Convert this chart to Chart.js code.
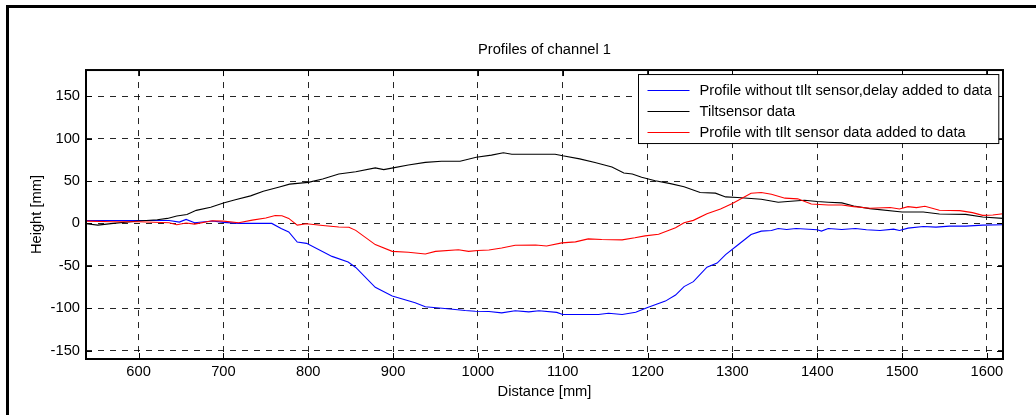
<!DOCTYPE html>
<html>
<head>
<meta charset="utf-8">
<title>Profiles of channel 1</title>
<script src="https://cdn.jsdelivr.net/npm/chart.js@4.4.1/dist/chart.umd.min.js"></script>
<style>
  body { margin: 0; background: #fff; }
  canvas { display: block; }
</style>
</head>
<body>
<canvas id="profileChart" width="1036" height="415"></canvas>
<script>
// profile without tilt sensor (delay added)
const blueDistance = [538, 560, 590, 620, 636, 648, 656, 666, 687, 700, 718, 740, 757, 768, 777, 787, 798, 828, 847, 856, 879, 899, 926, 938, 961, 985, 997, 1013, 1028, 1044, 1060, 1072, 1093, 1100, 1142, 1154, 1170, 1186, 1200, 1221, 1233, 1243, 1254, 1270, 1282, 1292, 1306, 1322, 1334, 1346, 1354, 1364, 1375, 1400, 1405, 1413, 1429, 1445, 1458, 1474, 1490, 1497, 1507, 1525, 1540, 1556, 1575, 1595, 1619];
const blueHeight = [3.5, 3.5, 3.5, 3.5, 3.5, 1.6, 4.7, 0.8, 2.8, 1.2, 0, 0, 0, -6, -10, -22, -23.5, -38.9, -45.6, -52, -75.4, -85.7, -93.7, -98.4, -100.4, -102.8, -103.6, -104, -105.6, -103, -104.4, -103, -105, -107.5, -107.5, -106, -107.5, -104.8, -99.2, -91.7, -84.5, -74.6, -68.7, -51.6, -46.8, -36.9, -25.8, -13.1, -9.1, -8.3, -6, -7.1, -6, -7.5, -9.1, -6, -7.1, -6, -7.5, -8.3, -6.7, -8.3, -5.6, -3.6, -4.4, -3.2, -3.2, -2, -1.6];

// tilt sensor
const blackDistance = [538, 552, 570, 600, 622, 634, 645, 657, 668, 685, 700, 714, 732, 747, 766, 778, 800, 817, 836, 856, 879, 889, 900, 918, 938, 957, 979, 998, 1016, 1030, 1040, 1091, 1100, 1120, 1138, 1158, 1172, 1182, 1193, 1209, 1227, 1243, 1262, 1280, 1292, 1306, 1334, 1354, 1369, 1385, 1400, 1413, 1429, 1443, 1462, 1500, 1525, 1544, 1575, 1595, 1619];
const blackHeight = [-0.4, -2, 0, 2.8, 4.3, 5.9, 8.7, 10.6, 15.4, 19, 24, 28, 32.5, 38, 43, 46.4, 48.4, 52.4, 58.3, 61, 65.5, 63.5, 65.5, 69, 72, 73.4, 73.4, 78, 80.6, 83.3, 81.7, 81.7, 79.8, 76.2, 71.8, 66.7, 59.5, 58.3, 54.4, 50.4, 47, 43.3, 36.5, 35.7, 31.3, 30.6, 28.6, 25, 26.2, 27.4, 25.8, 25, 24.2, 20.5, 17.5, 13.5, 13.5, 11.1, 10.7, 7.5, 6];

// profile with tilt sensor data added
const redDistance = [538, 570, 600, 636, 645, 656, 666, 687, 700, 718, 734, 750, 761, 769, 777, 787, 798, 820, 836, 848, 856, 879, 899, 918, 938, 950, 977, 989, 1000, 1013, 1028, 1044, 1068, 1081, 1099, 1115, 1130, 1146, 1170, 1185, 1197, 1213, 1233, 1243, 1254, 1270, 1286, 1300, 1322, 1334, 1346, 1362, 1377, 1393, 1413, 1429, 1443, 1462, 1486, 1497, 1507, 1517, 1527, 1544, 1568, 1583, 1595, 1607, 1619];
const redHeight = [2.7, 2, 2, 0.8, -1.6, 0.4, -0.8, 3.1, 2.7, 0.8, 3.9, 6.3, 9.4, 9, 5.9, -2, -0.4, -2.7, -4.3, -4.6, -8.2, -25, -33, -34, -36, -33, -31, -33, -32, -31.3, -29, -25.8, -25.4, -26.6, -23, -21.8, -18.3, -19, -19.4, -17, -14.7, -12.7, -5.2, 0.8, 3.6, 11.5, 17, 23.4, 35.7, 36.5, 34.5, 29.8, 29, 23, 21.8, 21.8, 19.8, 17.9, 18.7, 17, 19.8, 18.7, 20.2, 15.5, 15.1, 12.7, 9.5, 9.9, 11.5];

const distanceTicks = [600, 700, 800, 900, 1000, 1100, 1200, 1300, 1400, 1500, 1600];
const heightTicks = [-150, -100, -50, 0, 50, 100, 150];

const seriesLabels = [
  "Profile without tIlt sensor,delay added to data",
  "Tiltsensor data",
  "Profile with tIlt sensor data added to data",
];
const seriesColors = ["#0000ff", "#000000", "#ff0000"];

const fontFamily = "'Liberation Sans', Arial, Helvetica, sans-serif";
const fontSize = 14.7;

function toPoints(xs, ys) {
  return xs.map((x, i) => ({ x: x, y: ys[i] }));
}

// white figure with the thick frame on the left and top
const figureFrame = {
  id: "figureFrame",
  beforeDraw(chart) {
    const ctx = chart.ctx;
    ctx.save();
    ctx.fillStyle = "#fff";
    ctx.fillRect(0, 0, chart.width, chart.height);
    ctx.strokeStyle = "#000";
    ctx.lineWidth = 3;
    ctx.beginPath();
    ctx.moveTo(7.5, chart.height);
    ctx.lineTo(7.5, 6.5);
    ctx.lineTo(chart.width, 6.5);
    ctx.stroke();
    ctx.restore();
  },
};

// axes box, inward tick marks and the boxed legend in the upper right
const axesBox = {
  id: "axesBox",
  afterDraw(chart) {
    const ctx = chart.ctx;
    const area = chart.chartArea;
    const xScale = chart.scales.x;
    const yScale = chart.scales.y;
    const tickLen = 6;

    ctx.save();
    ctx.strokeStyle = "#000";
    ctx.lineWidth = 1;
    ctx.beginPath();
    xScale.ticks.forEach((t) => {
      const px = Math.round(xScale.getPixelForValue(t.value)) + 0.5;
      ctx.moveTo(px, area.bottom);
      ctx.lineTo(px, area.bottom - tickLen);
      ctx.moveTo(px, area.top);
      ctx.lineTo(px, area.top + tickLen);
    });
    yScale.ticks.forEach((t) => {
      const py = Math.round(yScale.getPixelForValue(t.value)) + 0.5;
      ctx.moveTo(area.left, py);
      ctx.lineTo(area.left + tickLen, py);
      ctx.moveTo(area.right, py);
      ctx.lineTo(area.right - tickLen, py);
    });
    ctx.stroke();

    ctx.lineWidth = 2;
    ctx.strokeRect(area.left, area.top, area.right - area.left, area.bottom - area.top);

    // legend
    ctx.font = fontSize + "px " + fontFamily;
    let textWidth = 0;
    chart.data.datasets.forEach((ds) => {
      textWidth = Math.max(textWidth, ctx.measureText(ds.label).width);
    });
    const boxW = 9 + 42 + 10 + textWidth + 7;
    const boxH = 69;
    const boxX = Math.round(area.right - 5 - boxW) + 0.5;
    const boxY = area.top + 4.5;
    ctx.fillStyle = "#fff";
    ctx.fillRect(boxX, boxY, boxW, boxH);
    ctx.lineWidth = 1;
    ctx.strokeStyle = "#000";
    ctx.strokeRect(boxX, boxY, boxW, boxH);

    ctx.textBaseline = "middle";
    ctx.textAlign = "left";
    chart.data.datasets.forEach((ds, i) => {
      const rowY = Math.round(boxY + 15 + i * 21) + 0.5;
      ctx.strokeStyle = ds.borderColor;
      ctx.beginPath();
      ctx.moveTo(boxX + 9, rowY);
      ctx.lineTo(boxX + 51, rowY);
      ctx.stroke();
      ctx.fillStyle = "#000";
      ctx.fillText(ds.label, boxX + 61, rowY);
    });
    ctx.restore();
  },
};

const datasets = [
  { label: seriesLabels[0], data: toPoints(blueDistance, blueHeight), borderColor: seriesColors[0], order: 3 },
  { label: seriesLabels[1], data: toPoints(blackDistance, blackHeight), borderColor: seriesColors[1], order: 2 },
  { label: seriesLabels[2], data: toPoints(redDistance, redHeight), borderColor: seriesColors[2], order: 1 },
].map((ds) => Object.assign(ds, {
  borderWidth: 1.1,
  pointRadius: 0,
  tension: 0,
  fill: false,
}));

const gridStyle = {
  color: "rgba(0, 0, 0, 0.85)",
  lineWidth: 1,
  drawTicks: false,
};
const borderStyle = { display: false, dash: [6, 6] };

const ctx = document.getElementById("profileChart");

new Chart(ctx, {
  type: "line",
  data: { datasets: datasets },
  plugins: [figureFrame, axesBox],
  options: {
    responsive: false,
    animation: false,
    layout: { padding: { left: 0, top: 0, right: 33, bottom: 0 } },
    plugins: {
      legend: { display: false },
      tooltip: { enabled: false },
      title: {
        display: true,
        fullSize: false,
        text: "Profiles of channel 1",
        color: "#000",
        font: { family: fontFamily, size: fontSize, weight: "normal" },
        padding: { top: 41, bottom: 11.4 },
      },
    },
    scales: {
      x: {
        type: "linear",
        min: 538,
        max: 1619,
        grid: gridStyle,
        border: borderStyle,
        afterBuildTicks: (scale) => {
          scale.ticks = distanceTicks.map((v) => ({ value: v }));
        },
        afterFit: (scale) => {
          scale.height = 56;
        },
        ticks: {
          color: "#000",
          padding: 4,
          maxRotation: 0,
          autoSkip: false,
          font: { family: fontFamily, size: fontSize },
          callback: (value) => String(value),
        },
        title: {
          display: true,
          text: "Distance [mm]",
          color: "#000",
          font: { family: fontFamily, size: fontSize },
          padding: { top: 0, bottom: 14 },
        },
      },
      y: {
        type: "linear",
        min: -160,
        max: 181,
        grid: gridStyle,
        border: borderStyle,
        afterBuildTicks: (scale) => {
          scale.ticks = heightTicks.map((v) => ({ value: v }));
        },
        afterFit: (scale) => {
          scale.width = 86;
        },
        ticks: {
          color: "#000",
          padding: 6,
          font: { family: fontFamily, size: fontSize },
          callback: (value) => String(value),
        },
        title: {
          display: true,
          text: "Height [mm]",
          color: "#000",
          font: { family: fontFamily, size: fontSize },
          padding: { top: 28, bottom: 0 },
        },
      },
    },
  },
});
</script>
</body>
</html>
